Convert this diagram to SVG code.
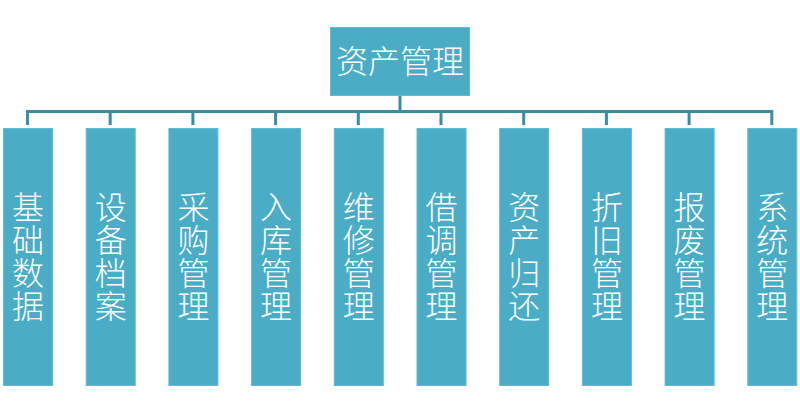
<svg xmlns="http://www.w3.org/2000/svg" width="800" height="413" viewBox="0 0 800 413">
<style>
.box{fill:#4BACC6;stroke:#5DBBD3;stroke-width:1}
.t{font-family:"Noto Sans CJK SC","Noto Sans CJK TC",sans-serif;font-size:32px;fill:#FFFFFF;text-anchor:middle;font-weight:300}
.c{fill:none;stroke:#3C8CA2;stroke-width:3}
</style>
<rect width="800" height="413" fill="#FFFFFF"/>
<g id="connectors">
<path class="c" d="M400,95V111.5M27.5,111.5H772M27.5,110V125M110.2,110V125M192.9,110V125M275.6,110V125M358.3,110V125M441,110V125M523.7,110V125M606.4,110V125M689.1,110V125M771.8,110V125"/>
</g>
<g id="root">
<rect class="box" x="330.5" y="27.5" width="139" height="68"/>
<text class="t" x="400" y="73">资产管理</text>
</g>
<g id="n1"><rect class="box" x="3.5" y="128.5" width="49" height="257"/>
<text class="t"><tspan x="28" y="219">基</tspan><tspan x="28" y="252">础</tspan><tspan x="28" y="285">数</tspan><tspan x="28" y="318">据</tspan></text></g>
<g id="n2"><rect class="box" x="86.2" y="128.5" width="49" height="257"/>
<text class="t"><tspan x="110.7" y="219">设</tspan><tspan x="110.7" y="252">备</tspan><tspan x="110.7" y="285">档</tspan><tspan x="110.7" y="318">案</tspan></text></g>
<g id="n3"><rect class="box" x="168.9" y="128.5" width="49" height="257"/>
<text class="t"><tspan x="193.4" y="219">采</tspan><tspan x="193.4" y="252">购</tspan><tspan x="193.4" y="285">管</tspan><tspan x="193.4" y="318">理</tspan></text></g>
<g id="n4"><rect class="box" x="251.6" y="128.5" width="49" height="257"/>
<text class="t"><tspan x="276.1" y="219">入</tspan><tspan x="276.1" y="252">库</tspan><tspan x="276.1" y="285">管</tspan><tspan x="276.1" y="318">理</tspan></text></g>
<g id="n5"><rect class="box" x="334.3" y="128.5" width="49" height="257"/>
<text class="t"><tspan x="358.8" y="219">维</tspan><tspan x="358.8" y="252">修</tspan><tspan x="358.8" y="285">管</tspan><tspan x="358.8" y="318">理</tspan></text></g>
<g id="n6"><rect class="box" x="417" y="128.5" width="49" height="257"/>
<text class="t"><tspan x="441.5" y="219">借</tspan><tspan x="441.5" y="252">调</tspan><tspan x="441.5" y="285">管</tspan><tspan x="441.5" y="318">理</tspan></text></g>
<g id="n7"><rect class="box" x="499.7" y="128.5" width="49" height="257"/>
<text class="t"><tspan x="524.2" y="219">资</tspan><tspan x="524.2" y="252">产</tspan><tspan x="524.2" y="285">归</tspan><tspan x="524.2" y="318">还</tspan></text></g>
<g id="n8"><rect class="box" x="582.4" y="128.5" width="49" height="257"/>
<text class="t"><tspan x="606.9" y="219">折</tspan><tspan x="606.9" y="252">旧</tspan><tspan x="606.9" y="285">管</tspan><tspan x="606.9" y="318">理</tspan></text></g>
<g id="n9"><rect class="box" x="665.1" y="128.5" width="49" height="257"/>
<text class="t"><tspan x="689.6" y="219">报</tspan><tspan x="689.6" y="252">废</tspan><tspan x="689.6" y="285">管</tspan><tspan x="689.6" y="318">理</tspan></text></g>
<g id="n10"><rect class="box" x="747.8" y="128.5" width="49" height="257"/>
<text class="t"><tspan x="772.3" y="219">系</tspan><tspan x="772.3" y="252">统</tspan><tspan x="772.3" y="285">管</tspan><tspan x="772.3" y="318">理</tspan></text></g>
</svg>
